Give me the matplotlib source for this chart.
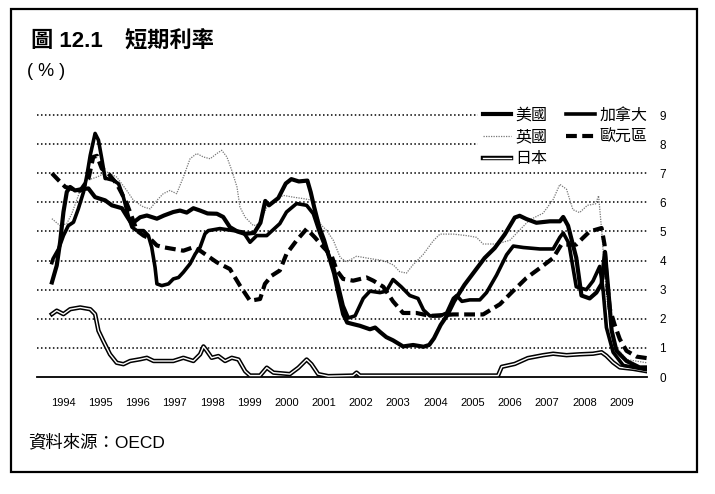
import matplotlib
matplotlib.use('Agg')
import matplotlib.pyplot as plt
import matplotlib.patheffects as pe
from matplotlib.patches import Rectangle

# short-term interest rates (%)
us_t = [1994.02, 1994.15, 1994.24, 1994.33, 1994.42, 1994.51, 1994.64, 1994.80, 1995.00, 1995.18,
        1995.45, 1995.63, 1995.90, 1996.02, 1996.12, 1996.20, 1996.39, 1996.57, 1996.84, 1997.03,
        1997.28, 1997.46, 1997.64, 1997.82, 1998.00, 1998.20, 1998.45, 1998.62, 1998.80, 1999.00,
        1999.20, 1999.45, 1999.62, 1999.75, 1999.85, 2000.10, 2000.30, 2000.45, 2000.65, 2000.88,
        2000.97, 2001.06, 2001.20, 2001.33, 2001.47, 2001.60, 2001.70, 2001.84, 2001.95, 2002.10,
        2002.29, 2002.56, 2002.70, 2002.83, 2003.00, 2003.18, 2003.45, 2003.72, 2004.00, 2004.15,
        2004.28, 2004.46, 2004.64, 2004.82, 2005.10, 2005.37, 2005.64, 2005.91, 2006.18, 2006.45,
        2006.58, 2006.76, 2007.03, 2007.39, 2007.66, 2007.75, 2007.88, 2008.10, 2008.24, 2008.46,
        2008.64, 2008.78, 2008.87, 2008.96, 2009.05, 2009.18, 2009.45, 2009.80, 2009.99]
us_v = [3.25, 3.83, 4.63, 5.67, 6.36, 6.53, 6.41, 6.45, 6.48, 6.18,
        6.07, 5.90, 5.80, 5.55, 5.35, 5.30, 5.49, 5.55, 5.44, 5.55,
        5.67, 5.72, 5.65, 5.80, 5.72, 5.62, 5.61, 5.50, 5.15, 5.00,
        4.92, 4.95, 5.30, 6.05, 5.90, 6.15, 6.65, 6.80, 6.72, 6.75,
        6.35, 5.85, 5.15, 4.70, 4.10, 3.55, 2.95, 2.16, 1.87, 1.82,
        1.76, 1.64, 1.70, 1.55, 1.37, 1.26, 1.05, 1.10, 1.04, 1.10,
        1.33, 1.79, 2.13, 2.60, 3.17, 3.63, 4.09, 4.43, 4.90, 5.48,
        5.54, 5.43, 5.30, 5.35, 5.35, 5.50, 5.20, 4.10, 2.80, 2.70,
        2.90, 3.20, 4.30, 3.00, 1.60, 0.90, 0.55, 0.33, 0.33]

ca_t = [1994.02, 1994.05, 1994.20, 1994.33, 1994.46, 1994.60, 1994.73, 1994.87, 1994.96, 1995.05,
        1995.18, 1995.27, 1995.36, 1995.45, 1995.49, 1995.67, 1995.81, 1995.94, 1996.08, 1996.17,
        1996.30, 1996.48, 1996.61, 1996.70, 1996.79, 1996.84, 1996.97, 1997.15, 1997.28, 1997.42,
        1997.55, 1997.73, 1997.87, 1998.00, 1998.13, 1998.22, 1998.53, 1998.90, 1999.16, 1999.34,
        1999.52, 1999.79, 2000.14, 2000.32, 2000.59, 2000.86, 2001.04, 2001.22, 2001.40, 2001.57,
        2001.71, 2001.84, 2001.98, 2002.16, 2002.38, 2002.56, 2002.83, 2003.00, 2003.18, 2003.40,
        2003.63, 2003.85, 2004.00, 2004.17, 2004.44, 2004.62, 2004.80, 2004.89, 2005.03, 2005.24,
        2005.51, 2005.69, 2005.96, 2006.23, 2006.41, 2006.68, 2007.12, 2007.48, 2007.66, 2007.75,
        2007.90, 2008.10, 2008.37, 2008.55, 2008.73, 2008.82, 2008.91, 2009.09, 2009.36, 2009.99]
ca_v = [3.93, 4.06, 4.40, 4.86, 5.20, 5.32, 5.78, 6.36, 6.93, 7.62,
        8.37, 8.14, 7.50, 6.82, 6.82, 6.76, 6.64, 6.18, 5.49, 5.15,
        5.03, 5.03, 4.86, 4.46, 3.77, 3.20, 3.14, 3.20, 3.37, 3.42,
        3.60, 3.89, 4.23, 4.46, 4.92, 5.03, 5.10, 5.03, 4.98, 4.63,
        4.86, 4.86, 5.27, 5.67, 5.96, 5.90, 5.61, 4.92, 4.34, 3.83,
        3.14, 2.45, 2.03, 2.10, 2.70, 2.95, 2.90, 2.95, 3.35, 3.10,
        2.80, 2.70, 2.30, 2.10, 2.10, 2.20, 2.70, 2.80, 2.60, 2.65,
        2.65, 2.90, 3.50, 4.20, 4.50, 4.45, 4.40, 4.40, 4.80, 4.95,
        4.60, 3.10, 3.00, 3.30, 3.80, 3.00, 1.70, 0.85, 0.40, 0.25]

uk_t = [1994.02, 1994.24, 1994.42, 1994.55, 1994.78, 1994.96, 1995.23, 1995.50, 1995.76, 1996.03,
        1996.21, 1996.48, 1996.66, 1996.84, 1997.01, 1997.19, 1997.37, 1997.55, 1997.73, 1997.91,
        1998.09, 1998.27, 1998.45, 1998.58, 1998.72, 1998.85, 1998.99, 1999.07, 1999.21, 1999.43,
        1999.61, 1999.79, 1999.97, 2000.24, 2000.50, 2000.77, 2001.04, 2001.13, 2001.22, 2001.40,
        2001.58, 2001.76, 2001.93, 2002.20, 2002.56, 2002.92, 2003.19, 2003.36, 2003.54, 2003.72,
        2003.99, 2004.26, 2004.44, 2004.80, 2005.15, 2005.42, 2005.60, 2005.96, 2006.32, 2006.58,
        2006.85, 2007.21, 2007.48, 2007.66, 2007.84, 2008.01, 2008.19, 2008.40, 2008.62, 2008.70,
        2008.78, 2008.91, 2009.09, 2009.45, 2009.99]
uk_v = [5.44, 5.20, 5.27, 5.60, 6.41, 6.76, 6.87, 7.04, 6.87, 6.41,
        6.07, 5.84, 5.78, 6.07, 6.30, 6.41, 6.30, 6.87, 7.50, 7.68,
        7.56, 7.50, 7.68, 7.79, 7.56, 7.10, 6.53, 5.84, 5.49, 5.20,
        5.27, 5.84, 6.07, 6.24, 6.18, 6.13, 6.07, 5.60, 5.27, 5.03,
        4.69, 4.11, 3.95, 4.15, 4.07, 4.00, 3.85, 3.62, 3.57, 3.86,
        4.21, 4.68, 4.91, 4.91, 4.86, 4.80, 4.57, 4.57, 4.70, 5.05,
        5.40, 5.63, 6.10, 6.62, 6.45, 5.75, 5.65, 5.90, 5.95, 6.23,
        5.08, 2.78, 1.17, 0.60, 0.49]

eu_t = [1994.02, 1994.20, 1994.38, 1994.60, 1994.78, 1995.00, 1995.13, 1995.23, 1995.36, 1995.53,
        1995.76, 1995.90, 1996.03, 1996.17, 1996.30, 1996.48, 1996.66, 1996.84, 1997.01, 1997.28,
        1997.55, 1997.82, 1998.00, 1998.45, 1998.80, 1999.07, 1999.34, 1999.61, 1999.74, 1999.92,
        2000.14, 2000.32, 2000.59, 2000.86, 2001.08, 2001.31, 2001.53, 2001.67, 2001.84, 2002.11,
        2002.47, 2002.65, 2002.92, 2003.18, 2003.45, 2003.81, 2004.17, 2004.80, 2005.60, 2006.05,
        2006.40, 2006.76, 2007.12, 2007.48, 2007.70, 2008.10, 2008.28, 2008.46, 2008.78, 2008.86,
        2008.91, 2009.00, 2009.13, 2009.27, 2009.45, 2009.72, 2009.99]
eu_v = [7.00, 6.76, 6.53, 6.45, 6.40, 6.80, 7.56, 7.60, 7.16, 7.00,
        6.64, 6.30, 5.96, 5.49, 5.03, 4.86, 4.75, 4.52, 4.46, 4.40,
        4.34, 4.46, 4.34, 3.94, 3.71, 3.14, 2.62, 2.68, 3.20, 3.48,
        3.66, 4.23, 4.69, 5.09, 4.80, 4.46, 4.17, 3.66, 3.37, 3.31,
        3.42, 3.31, 3.10, 2.60, 2.20, 2.20, 2.10, 2.15, 2.15, 2.50,
        2.95, 3.40, 3.74, 4.09, 4.55, 4.55, 4.78, 5.00, 5.12, 4.55,
        3.50, 2.35, 1.80, 1.30, 0.90, 0.70, 0.65]

jp_t = [1994.02, 1994.15, 1994.33, 1994.51, 1994.78, 1995.05, 1995.18, 1995.27, 1995.40, 1995.58,
        1995.76, 1995.94, 1996.12, 1996.39, 1996.57, 1996.75, 1997.01, 1997.28, 1997.55, 1997.82,
        1998.00, 1998.09, 1998.18, 1998.31, 1998.49, 1998.67, 1998.85, 1999.03, 1999.21, 1999.34,
        1999.61, 1999.79, 1999.97, 2000.41, 2000.64, 2000.86, 2000.99, 2001.17, 2001.44, 2002.11,
        2002.20, 2002.29, 2006.00, 2006.10, 2006.45, 2006.80, 2007.21, 2007.48, 2007.84, 2008.19,
        2008.55, 2008.78, 2008.91, 2009.09, 2009.27, 2009.63, 2009.99]
jp_v = [2.16, 2.28, 2.16, 2.33, 2.39, 2.33, 2.16, 1.59, 1.24, 0.78,
        0.49, 0.44, 0.55, 0.61, 0.66, 0.55, 0.55, 0.55, 0.66, 0.55,
        0.78, 1.05, 0.90, 0.66, 0.72, 0.55, 0.66, 0.60, 0.20, 0.05,
        0.05, 0.32, 0.15, 0.10, 0.32, 0.60, 0.44, 0.10, 0.03, 0.05,
        0.15, 0.05, 0.05, 0.35, 0.45, 0.65, 0.75, 0.80, 0.75, 0.78,
        0.80, 0.85, 0.73, 0.50, 0.33, 0.28, 0.20]

years = list(range(1994, 2010))

plt.rcParams['font.family'] = ['Liberation Sans', 'Noto Sans CJK TC', 'DejaVu Sans']

fig = plt.figure(figsize=(7.15, 4.94), dpi=100)
ax = fig.add_axes([37/715, 1-377/494, (647-37)/715, (377-109)/494])

for v in range(1, 10):
    ax.axhline(v, color='black', lw=1.1, ls=(0, (1, 1.6)), zorder=1)

ax.plot(jp_t, jp_v, color='white', lw=1.0, zorder=3, label='日本',
        path_effects=[pe.withStroke(linewidth=3.2, foreground='black')])
ax.plot(uk_t, uk_v, color='#777777', lw=0.9, ls=(0, (1, 1)), zorder=3, label='英國')
ax.plot(eu_t, eu_v, color='black', lw=3, ls=(0, (2.6, 1.3)), zorder=4, label='歐元區')
ax.plot(ca_t, ca_v, color='black', lw=2.6, zorder=4, label='加拿大')
ax.plot(us_t, us_v, color='black', lw=3, zorder=5, label='美國')

ax.set_xlim(1993.62, 2010.0)
ax.set_ylim(0, (377-109)/29.1)
for s in ['top', 'left', 'right']:
    ax.spines[s].set_visible(False)
ax.spines['bottom'].set_linewidth(1.3)

ax.set_xticks([y + 0.32 for y in years])
ax.set_xticklabels([str(y) for y in years], fontsize=8)
ax.yaxis.tick_right()
ax.set_yticks(range(0, 10))
ax.set_yticklabels([str(v) for v in range(0, 10)], fontsize=8.5)
ax.tick_params(axis='x', length=0, pad=15)
ax.tick_params(axis='y', length=0, pad=9)

h, l = ax.get_legend_handles_labels()
order = ['美國', '英國', '日本', '加拿大', '歐元區']
hl = dict(zip(l, h))
leg = ax.legend([hl[k] for k in order], order, ncol=2, loc='upper right',
                bbox_to_anchor=(660/715, 1-94/494), bbox_transform=fig.transFigure,
                prop={'family': ['Noto Sans CJK TC'], 'size': 11.5},
                frameon=True, facecolor='white', edgecolor='none', framealpha=1,
                handlelength=1.8, handletextpad=0.25, columnspacing=1.2,
                labelspacing=0.3, borderpad=0.3)
leg.set_zorder(10)

fig.text(31/715, 1-41/494, '圖 12.1　短期利率', fontsize=16, fontweight='bold', va='center', ha='left')
fig.text(27/715, 1-71/494, '( % )', fontsize=13, va='center', ha='left')
fig.text(28/715, 1-442/494, '資料來源：OECD', fontsize=12.5, va='center', ha='left')

fig.add_artist(Rectangle((11/715, 1-472/494), (697-11)/715, (472-9)/494,
                         transform=fig.transFigure, fill=False, lw=1.6, edgecolor='black'))

fig.savefig('out.png', dpi=100)
